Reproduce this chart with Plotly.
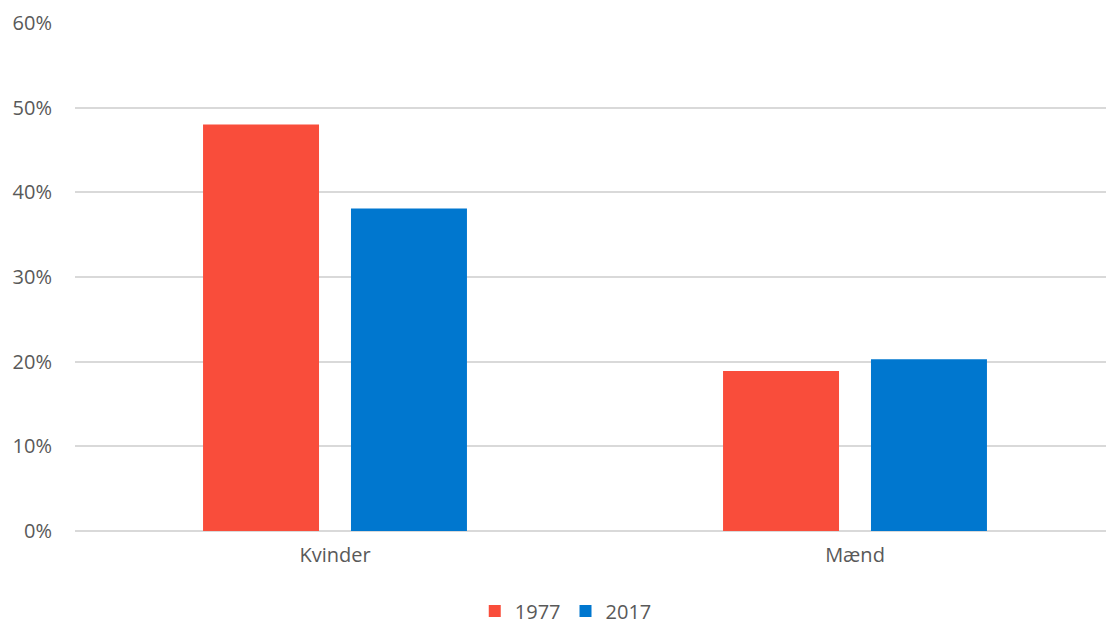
import plotly.graph_objects as go

categories = ["Kvinder", "Mænd"]
years = ["1977", "2017"]
values_1977 = [0.480, 0.189]
values_2017 = [0.381, 0.203]
y_ticks = [0, 0.1, 0.2, 0.3, 0.4, 0.5, 0.6]
y_tick_labels = ["0%", "10%", "20%", "30%", "40%", "50%", "60%"]

colors = {"1977": "#F94D3B", "2017": "#0077CF"}
series = {"1977": values_1977, "2017": values_2017}

fig = go.Figure()
for yr in years:
    fig.add_trace(go.Bar(x=categories, y=series[yr], name=yr,
                         marker=dict(color=colors[yr], line=dict(width=0))))

W, H = 1106, 624
left, right_px, top_px, bottom_px = 75, 1106, 23, 531
cat_px = 520
FS = 20
fig.update_layout(
    width=W, height=H,
    margin=dict(l=left, r=W - right_px, t=top_px, b=H - bottom_px, pad=0),
    paper_bgcolor="white", plot_bgcolor="white",
    barmode="group", bargap=0.431, bargroupgap=0.216,
    font=dict(family="Open Sans, Arial, sans-serif", size=FS, color="#595959"),
    showlegend=True,
    legend=dict(orientation="h", xref="paper", x=0.476, xanchor="center",
                yref="container", y=(H - 611) / H, yanchor="middle",
                font=dict(size=FS, color="#595959"), itemwidth=30, traceorder="normal"),
)
fig.update_xaxes(
    type="category",
    range=[-0.5, -0.5 + (right_px - left) / cat_px],
    showgrid=False, zeroline=False, showline=False,
    ticks="", ticklabelstandoff=10,
    tickfont=dict(size=FS, color="#595959"),
)
fig.update_yaxes(
    range=[0, 0.6], tickvals=y_ticks, ticktext=y_tick_labels,
    showgrid=True, gridcolor="#D9D9D9", gridwidth=1.5,
    zeroline=True, zerolinecolor="#D9D9D9", zerolinewidth=2,
    showline=False, ticks="", ticklabelstandoff=22,
    tickfont=dict(size=FS, color="#595959"),
)
fig.write_html("out.html", config={"displayModeBar": False},
               post_script="document.body.style.margin='0';document.body.style.overflow='hidden';")
